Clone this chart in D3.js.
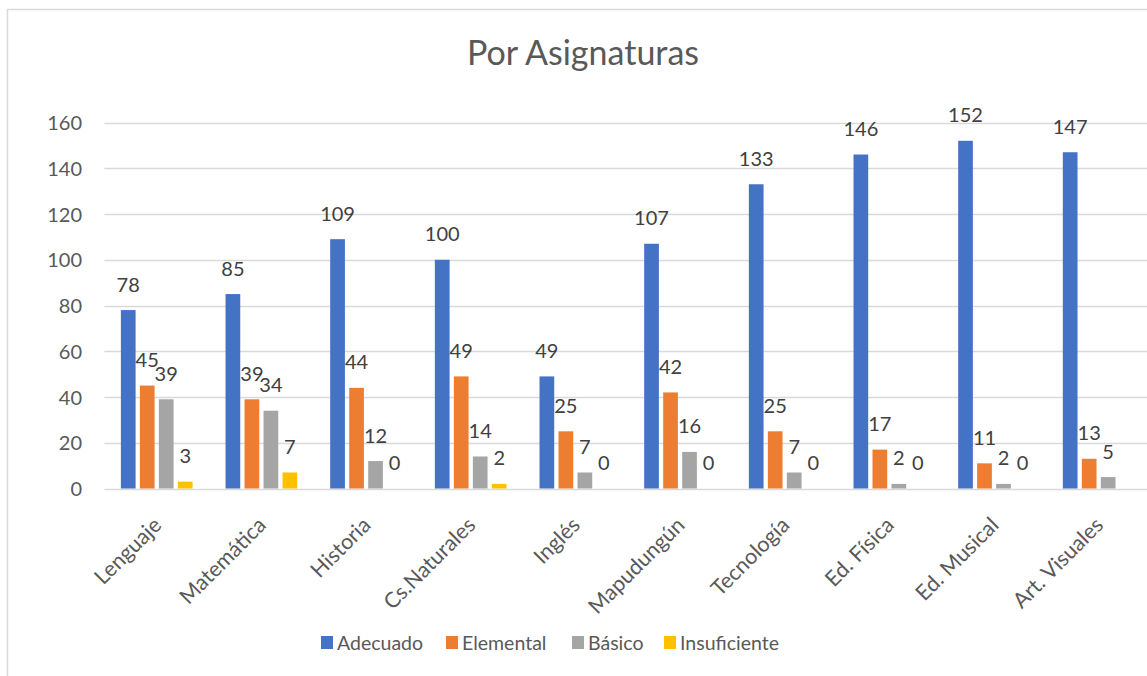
<!DOCTYPE html>
<html>
<head>
<meta charset="utf-8">
<script src="https://cdn.jsdelivr.net/npm/d3@7"></script>
<style>
  html, body { margin: 0; padding: 0; background: #fff; }
  svg { display: block; font-family: Lato, "Open Sans", sans-serif; }
</style>
</head>
<body>
<svg id="chart" width="1147" height="676"></svg>
<script>
// Subjects (categories)
const subjects = ["Lenguaje", "Matemática", "Historia", "Cs.Naturales", "Inglés",
  "Mapudungún", "Tecnología", "Ed. Física", "Ed. Musical", "Art. Visuales"];

// Number of students per achievement level, by subject
const adecuado     = [78, 85, 109, 100, 49, 107, 133, 146, 152, 147];
const elemental    = [45, 39, 44, 49, 25, 42, 25, 17, 11, 13];
const basico       = [39, 34, 12, 14, 7, 16, 7, 2, 2, 5];
const insuficiente = [3, 7, 0, 2, 0, 0, 0, 0, 0, null];

const seriesNames = ["Adecuado", "Elemental", "Básico", "Insuficiente"];
const seriesValues = [adecuado, elemental, basico, insuficiente];
const seriesColors = ["#4472C4", "#ED7D31", "#A5A5A5", "#FFC000"];

const yTicks = [0, 20, 40, 60, 80, 100, 120, 140, 160];

const svg = d3.select("#chart");

// Chart frame
svg.append("rect")
  .attr("x", 7.5).attr("y", 9.5)
  .attr("width", 1160).attr("height", 700)
  .attr("fill", "#fff").attr("stroke", "#d9d9d9").attr("stroke-width", 1.5);

// Title
svg.append("text")
  .attr("x", 583).attr("y", 65)
  .attr("text-anchor", "middle")
  .attr("fill", "#595959")
  .style("font-size", "34px")
  .text("Por Asignaturas");

const plotLeft = 104.4, plotRight = 1151;
const y = d3.scaleLinear().domain([0, 160]).range([488.5, 122.5]);

const x0 = d3.scaleBand().domain(subjects).range([plotLeft, plotRight]).padding(0);
const x1 = d3.scaleBand().domain(seriesNames).range([0, x0.bandwidth()])
  .paddingInner(0.226).paddingOuter(0.8675);

// Gridlines
svg.append("g").selectAll("line").data(yTicks).join("line")
  .attr("x1", plotLeft).attr("x2", plotRight)
  .attr("y1", d => Math.round(y(d)) + 0.5).attr("y2", d => Math.round(y(d)) + 0.5)
  .attr("stroke", "#d9d9d9").attr("stroke-width", 1.4);

// Y axis labels
const yAxis = d3.axisLeft(y).tickValues(yTicks).tickSize(0).tickPadding(0);
const yg = svg.append("g").attr("transform", `translate(82,0)`).call(yAxis);
yg.select(".domain").remove();
yg.selectAll("text")
  .attr("fill", "#595959")
  .style("font-size", "20px")
  .style("font-family", "Lato, 'Open Sans', sans-serif")
  .attr("dy", "0.35em");

// Bars and value labels
const rows = subjects.map((s, i) => ({
  subject: s,
  values: seriesNames.map((n, k) => ({ name: n, value: seriesValues[k][i], color: seriesColors[k] }))
}));

const groups = svg.append("g").selectAll("g").data(rows).join("g")
  .attr("transform", d => `translate(${x0(d.subject)},0)`);

groups.selectAll("rect").data(d => d.values.filter(v => v.value !== null)).join("rect")
  .attr("x", d => x1(d.name))
  .attr("width", x1.bandwidth())
  .attr("y", d => y(d.value))
  .attr("height", d => y(0) - y(d.value))
  .attr("fill", d => d.color);

groups.selectAll("text").data(d => d.values.filter(v => v.value !== null)).join("text")
  .attr("x", d => x1(d.name) + x1.bandwidth() / 2)
  .attr("y", d => y(d.value) - 18.5)
  .attr("text-anchor", "middle")
  .attr("fill", "#404040")
  .style("font-size", "20px")
  .text(d => d.value);

// Category labels, rotated
const xAxis = d3.axisBottom(x0).tickSize(0).tickPadding(0);
const xg = svg.append("g").attr("transform", `translate(0,${y(0)})`).call(xAxis);
xg.select(".domain").remove();
xg.selectAll("text")
  .attr("fill", "#595959")
  .style("font-size", "21.5px")
  .style("font-family", "Lato, 'Open Sans', sans-serif")
  .attr("text-anchor", "end")
  .attr("dy", null)
  .attr("y", 0)
  .attr("transform", "translate(6,38) rotate(-45)");

// Legend
const legendX = [321, 446, 572, 664];
const legend = svg.append("g").selectAll("g").data(seriesNames).join("g")
  .attr("transform", (d, i) => `translate(${legendX[i]},636)`);
legend.append("rect").attr("width", 12).attr("height", 13)
  .attr("fill", (d, i) => seriesColors[i]);
legend.append("text").attr("x", 16).attr("y", 13.5)
  .attr("fill", "#595959").style("font-size", "19.5px")
  .text(d => d);
</script>
</body>
</html>
